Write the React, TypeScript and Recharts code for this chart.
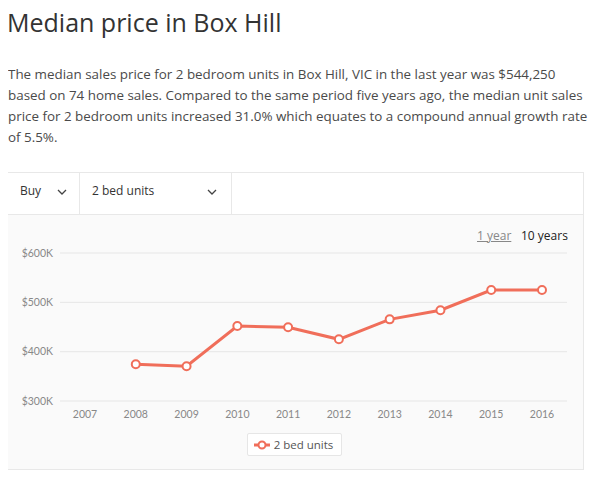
import React from "react";
import { LineChart, Line, XAxis, YAxis, CartesianGrid, Legend } from "recharts";

const years = ["2007", "2008", "2009", "2010", "2011", "2012", "2013", "2014", "2015", "2016"];
const medianPrice = [null, 374500, 370500, 452000, 449500, 425000, 465500, 484000, 525000, 525000];
const yTicks = [300000, 400000, 500000, 600000];
const seriesName = "2 bed units";

const introLines = [
  "The median sales price for 2 bedroom units in Box Hill, VIC in the last year was $544,250",
  "based on 74 home sales. Compared to the same period five years ago, the median unit sales",
  "price for 2 bedroom units increased 31.0% which equates to a compound annual growth rate",
  "of 5.5%.",
];

const data = years.map((year, i) => ({ year, price: medianPrice[i] }));

const LINE = "#f06e5a";
const FONT = "Lato, 'Open Sans', sans-serif";
const TEXT_FONT = "'Open Sans', Lato, sans-serif";

function Chevron({ x }: { x: number }) {
  return (
    <svg width="10" height="6" style={{ position: "absolute", left: x, top: 189 }}>
      <polyline points="1,1 5,5 9,1" fill="none" stroke="#444" strokeWidth="1.3" />
    </svg>
  );
}

function LegendBox() {
  return (
    <div style={{ display: "flex", justifyContent: "center", paddingTop: 8, paddingLeft: 14 }}>
      <div
        style={{
          height: 23,
          boxSizing: "border-box",
          border: "1px solid #e6e6e6",
          background: "#fff",
          display: "flex",
          alignItems: "center",
          padding: "0 8px 0 6px",
          fontFamily: TEXT_FONT,
          fontSize: 11.5,
          color: "#555",
          borderRadius: 2,
        }}
      >
        <svg width="16" height="10" style={{ marginRight: 4 }}>
          <line x1="0" y1="5" x2="16" y2="5" stroke={LINE} strokeWidth="3" />
          <circle cx="8" cy="5" r="3.5" fill="#fff" stroke={LINE} strokeWidth="2" />
        </svg>
        {seriesName}
      </div>
    </div>
  );
}

export default function App() {
  return (
    <div style={{ position: "relative", width: 600, height: 482, margin: -8, background: "#fff", fontFamily: TEXT_FONT, overflow: "hidden" }}>
      <div style={{ position: "absolute", left: 7, top: 5, fontSize: 25, color: "#333", lineHeight: "34px" }}>
        Median price in Box Hill
      </div>
      {introLines.map((line, i) => (
        <div
          key={i}
          style={{ position: "absolute", left: 8, top: 64 + i * 21, fontSize: 13.4, lineHeight: "21px", color: "#4a4a4a", whiteSpace: "nowrap" }}
        >
          {line}
        </div>
      ))}

      <div
        style={{
          position: "absolute",
          left: 7,
          top: 172,
          width: 577,
          height: 298,
          boxSizing: "border-box",
          border: "1px solid #e8e8e8",
          background: "#fafafa",
        }}
      />
      <div style={{ position: "absolute", left: 8, top: 173, width: 575, height: 41, background: "#fff", borderBottom: "1px solid #e8e8e8" }} />
      <div style={{ position: "absolute", left: 79, top: 173, width: 1, height: 41, background: "#e8e8e8" }} />
      <div style={{ position: "absolute", left: 231, top: 173, width: 1, height: 41, background: "#e8e8e8" }} />
      <div style={{ position: "absolute", left: 20, top: 183, fontSize: 12, color: "#333", lineHeight: "16px" }}>Buy</div>
      <Chevron x={57} />
      <div style={{ position: "absolute", left: 92, top: 183, fontSize: 12, color: "#333", lineHeight: "16px" }}>2 bed units</div>
      <Chevron x={207} />

      <div
        style={{ position: "absolute", left: 477, top: 228, fontSize: 12, color: "#888", textDecoration: "underline", lineHeight: "16px" }}
      >
        1 year
      </div>
      <div style={{ position: "absolute", left: 521, top: 228, fontSize: 12, color: "#222", lineHeight: "16px" }}>10 years</div>

      <div style={{ position: "absolute", left: 8, top: 215 }}>
        <LineChart width={576} height={255} data={data} margin={{ top: 38, right: 17, bottom: 14, left: 0 }}>
          <CartesianGrid vertical={false} stroke="#e6e6e6" />
          <XAxis
            dataKey="year"
            axisLine={false}
            tickLine={false}
            tickSize={0}
            tickMargin={10}
            height={24}
            padding={{ left: 25, right: 25 }}
            tick={{ fill: "#888", fontSize: 10.5, fontFamily: FONT }}
            interval={0}
          />
          <YAxis
            domain={[300000, 600000]}
            ticks={yTicks}
            axisLine={false}
            tickLine={false}
            tickSize={0}
            tickMargin={7}
            width={52}
            tickFormatter={(v: number) => `$${v / 1000}K`}
            tick={{ fill: "#888", fontSize: 10.5, fontFamily: FONT }}
          />
          <Legend verticalAlign="bottom" content={() => <LegendBox />} />
          <Line
            dataKey="price"
            name={seriesName}
            stroke={LINE}
            strokeWidth={3}
            dot={{ r: 4, fill: "#fff", stroke: LINE, strokeWidth: 2 }}
            activeDot={false}
            isAnimationActive={false}
          />
        </LineChart>
      </div>
    </div>
  );
}
